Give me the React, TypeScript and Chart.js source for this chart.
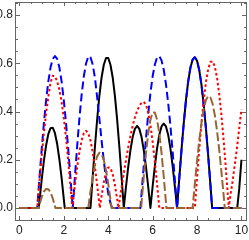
import React, { useEffect, useRef } from "react";
import { Chart, registerables } from "chart.js";

Chart.register(...registerables);

// Axis ticks
const xTickValues = [0, 2, 4, 6, 8, 10];
const yTickValues = [0, 0.2, 0.4, 0.6, 0.8];

// Black solid curve
const blackX = [0, 0.87, 0.9, 1.0, 1.1, 1.2, 1.3, 1.4, 1.5, 1.6, 1.7, 1.8, 1.9, 2.0, 2.04,
  3.2, 3.3, 3.4, 3.5, 3.6, 3.7, 3.8, 3.9, 4.0, 4.1, 4.2, 4.3, 4.4, 4.5, 4.6, 4.7,
  4.8, 4.9, 5.0, 5.1, 5.2, 5.3, 5.4, 5.5, 5.6, 5.7, 5.8, 5.9,
  6.0, 6.1, 6.2, 6.3, 6.4, 6.5, 6.6, 6.7, 6.8, 6.9, 7.0, 7.1,
  7.2, 7.3, 7.4, 7.5, 7.6, 7.7, 7.8, 7.9, 8.0, 8.1, 8.2, 8.3, 8.4, 8.5, 8.6, 8.68,
  9.81, 9.9, 10.0];
const blackY = [0, 0, 0.027, 0.115, 0.194, 0.259, 0.306, 0.331, 0.333, 0.31, 0.265, 0.201, 0.124, 0.036, 0,
  0, 0.13, 0.254, 0.367, 0.465, 0.541, 0.594, 0.622, 0.622, 0.594, 0.541, 0.465, 0.367, 0.254, 0.13, 0,
  0.088, 0.17, 0.24, 0.294, 0.328, 0.34, 0.328, 0.294, 0.24, 0.17, 0.088, 0,
  0.09, 0.175, 0.247, 0.303, 0.338, 0.35, 0.338, 0.303, 0.247, 0.175, 0.09, 0,
  0.124, 0.242, 0.351, 0.446, 0.524, 0.581, 0.615, 0.625, 0.61, 0.571, 0.51, 0.428, 0.331, 0.219, 0.099, 0,
  0, 0.08, 0.2];

// Blue dashed curve
const blueX = [0, 0.8, 0.9, 1.0, 1.1, 1.2, 1.3, 1.4, 1.5, 1.6, 1.7, 1.8, 1.9, 2.0, 2.1, 2.2, 2.3, 2.4,
  2.5, 2.6, 2.7, 2.8, 2.9, 3.0, 3.1, 3.15, 3.2, 3.3, 3.4, 3.5, 3.6, 3.7, 3.8, 3.9, 4.0, 4.1, 4.17,
  5.45, 5.5, 5.6, 5.7, 5.8, 5.9, 6.0, 6.1, 6.2, 6.3, 6.4, 6.5, 6.6, 6.7, 6.8, 6.9, 7.0, 7.1,
  7.2, 7.3, 7.4, 7.5, 7.6, 7.7, 7.8, 7.9, 8.0, 8.1, 8.2, 8.3, 8.4, 8.5, 8.6, 8.68, 10.0];
const blueY = [0, 0, 0.123, 0.241, 0.35, 0.445, 0.524, 0.582, 0.618, 0.63, 0.618, 0.582, 0.524, 0.445, 0.35, 0.241, 0.123, 0,
  0.131, 0.256, 0.37, 0.468, 0.546, 0.599, 0.627, 0.63, 0.625, 0.595, 0.54, 0.46, 0.37, 0.28, 0.195, 0.12, 0.06, 0.02, 0,
  0, 0.06, 0.177, 0.289, 0.389, 0.476, 0.546, 0.595, 0.624, 0.629, 0.612, 0.573, 0.513, 0.435, 0.341, 0.234, 0.119, 0,
  0.124, 0.242, 0.351, 0.446, 0.524, 0.581, 0.615, 0.625, 0.61, 0.571, 0.51, 0.428, 0.331, 0.219, 0.099, 0, 0];

// Red dotted curve
const redX = [0, 0.8, 0.9, 1.0, 1.1, 1.2, 1.3, 1.4, 1.5, 1.6, 1.7, 1.8, 1.9, 2.0, 2.1, 2.2, 2.3, 2.38,
  2.5, 2.6, 2.7, 2.8, 2.9, 3.0, 3.1, 3.2, 3.3, 3.4, 3.5, 3.62,
  3.7, 3.8, 3.9, 4.0, 4.1, 4.2, 4.3, 4.4, 4.46,
  4.5, 4.6, 4.7, 4.8, 4.9, 5.0, 5.1, 5.2, 5.3, 5.4, 5.5, 5.6, 5.7, 5.8, 5.9, 6.0, 6.1, 6.2, 6.3,
  7.9, 8.0, 8.1, 8.2, 8.3, 8.4, 8.5, 8.6, 8.7, 8.8, 8.9, 9.0, 9.1, 9.2, 9.3, 9.4, 9.43,
  9.5, 9.6, 9.7, 9.8, 9.9, 10.0];
const redY = [0, 0, 0.109, 0.213, 0.309, 0.393, 0.461, 0.52, 0.548, 0.546, 0.525, 0.49, 0.44, 0.372, 0.29, 0.193, 0.087, 0,
  0.096, 0.169, 0.232, 0.28, 0.31, 0.32, 0.31, 0.28, 0.232, 0.169, 0.096, 0,
  0.05, 0.106, 0.147, 0.168, 0.166, 0.14, 0.096, 0.038, 0,
  0.024, 0.084, 0.143, 0.199, 0.251, 0.298, 0.34, 0.375, 0.403, 0.423, 0.436, 0.44, 0.429, 0.396, 0.344, 0.274, 0.191, 0.098, 0,
  0, 0.124, 0.244, 0.352, 0.447, 0.522, 0.575, 0.605, 0.608, 0.587, 0.54, 0.471, 0.383, 0.278, 0.161, 0.037, 0,
  0.05, 0.11, 0.18, 0.25, 0.33, 0.41];

// Brown long-dashed curve
const brownX = [0, 0.87, 0.9, 1.0, 1.1, 1.2, 1.3, 1.4, 1.5, 1.6, 1.62,
  3.1, 3.2, 3.3, 3.4, 3.5, 3.6, 3.7, 3.8, 3.9, 4.0, 4.1, 4.15,
  5.48, 5.5, 5.6, 5.7, 5.8, 5.9, 6.0, 6.1, 6.2, 6.3, 6.4, 6.5, 6.6, 6.62,
  7.8, 7.9, 8.0, 8.1, 8.2, 8.3, 8.4, 8.5, 8.6, 8.7, 8.8, 8.9, 9.0, 9.1, 9.2, 9.25, 10.0];
const brownY = [0, 0, 0.012, 0.045, 0.068, 0.079, 0.078, 0.065, 0.04, 0.007, 0,
  0, 0.068, 0.129, 0.18, 0.214, 0.229, 0.224, 0.199, 0.156, 0.1, 0.034, 0,
  0, 0.022, 0.13, 0.228, 0.309, 0.366, 0.396, 0.396, 0.366, 0.309, 0.228, 0.13, 0.022, 0,
  0, 0.1, 0.195, 0.281, 0.354, 0.411, 0.448, 0.464, 0.459, 0.432, 0.385, 0.32, 0.24, 0.148, 0.05, 0, 0];

const pts = (xs: number[], ys: number[]) => xs.map((x, i) => ({ x, y: ys[i] }));

const FRAME = "#666666";

const framePlugin = {
  id: "mframe",
  afterDraw(chart: any) {
    const { ctx, chartArea: a, scales } = chart;
    const sx = scales.x;
    const sy = scales.y;
    ctx.save();
    ctx.strokeStyle = FRAME;
    ctx.lineWidth = 1;
    ctx.strokeRect(a.left + 0.5, a.top + 0.5, a.right - a.left - 1, a.bottom - a.top - 1);
    ctx.beginPath();
    // x ticks (bottom and top), inward
    for (let k = 0; k <= 20; k++) {
      const v = k * 0.5;
      const major = k % 4 === 0;
      const len = major ? 4 : 2;
      const px = Math.round(sx.getPixelForValue(v)) + 0.5;
      if (px < a.left || px > a.right) continue;
      ctx.moveTo(px, a.bottom - 1);
      ctx.lineTo(px, a.bottom - 1 - len);
      ctx.moveTo(px, a.top);
      ctx.lineTo(px, a.top + len);
    }
    // y ticks (left and right), inward
    for (let k = -1; k <= 17; k++) {
      const v = k * 0.05;
      const major = k % 4 === 0;
      const len = major ? 4 : 2;
      const py = Math.round(sy.getPixelForValue(v)) + 0.5;
      if (py < a.top || py > a.bottom) continue;
      ctx.moveTo(a.left, py);
      ctx.lineTo(a.left + 1 + len, py);
      ctx.moveTo(a.right - 1, py);
      ctx.lineTo(a.right - 1 - len, py);
    }
    ctx.stroke();
    ctx.restore();
  },
};

export default function App() {
  const ref = useRef<HTMLCanvasElement | null>(null);

  useEffect(() => {
    if (!ref.current) return;
    const font = { family: "'Liberation Sans', Arial, sans-serif", size: 12 };
    const common = {
      pointRadius: 0,
      pointHoverRadius: 0,
      borderWidth: 2,
      tension: 0,
      fill: false,
      borderJoinStyle: "round" as const,
    };
    const chart = new Chart(ref.current, {
      type: "line",
      data: {
        datasets: [
          { ...common, label: "brown", data: pts(brownX, brownY), borderColor: "#996633", borderDash: [9, 3], order: 0 },
          { ...common, label: "red", data: pts(redX, redY), borderColor: "#ff0000", borderDash: [2.5, 2.5], order: 1 },
          { ...common, label: "blue", data: pts(blueX, blueY), borderColor: "#0000ff", borderDash: [8, 4], order: 2 },
          { ...common, label: "black", data: pts(blackX, blackY), borderColor: "#000000", order: 3 },
        ],
      },
      options: {
        responsive: false,
        animation: false,
        events: [],
        layout: { padding: { top: 2, right: 2, left: 0, bottom: 0 } },
        plugins: { legend: { display: false }, tooltip: { enabled: false } },
        scales: {
          x: {
            type: "linear",
            min: -0.2,
            max: 10.25,
            grid: { display: false, drawTicks: false },
            border: { display: false },
            afterBuildTicks: (s: any) => {
              s.ticks = xTickValues.map((v) => ({ value: v }));
            },
            afterFit: (s: any) => {
              s.height = 19;
              s.paddingLeft = 0;
              s.paddingRight = 0;
            },
            ticks: {
              font,
              color: "#222",
              padding: 2,
              maxRotation: 0,
              autoSkip: false,
              callback: (v: any) => String(v),
            },
          },
          y: {
            type: "linear",
            min: -0.054,
            max: 0.854,
            grid: { display: false, drawTicks: false },
            border: { display: false },
            afterBuildTicks: (s: any) => {
              s.ticks = yTickValues.map((v) => ({ value: v }));
            },
            afterFit: (s: any) => {
              s.width = 15;
              s.paddingTop = 0;
              s.paddingBottom = 0;
            },
            ticks: {
              font,
              color: "#222",
              padding: 2,
              autoSkip: false,
              callback: (v: any) => Number(v).toFixed(1),
            },
          },
        },
      },
      plugins: [framePlugin],
    });
    return () => chart.destroy();
  }, []);

  return (
    <div style={{ position: "absolute", left: 0, top: 0, width: 249, height: 240, background: "#fff" }}>
      <canvas ref={ref} width={249} height={240} style={{ display: "block" }} />
    </div>
  );
}
